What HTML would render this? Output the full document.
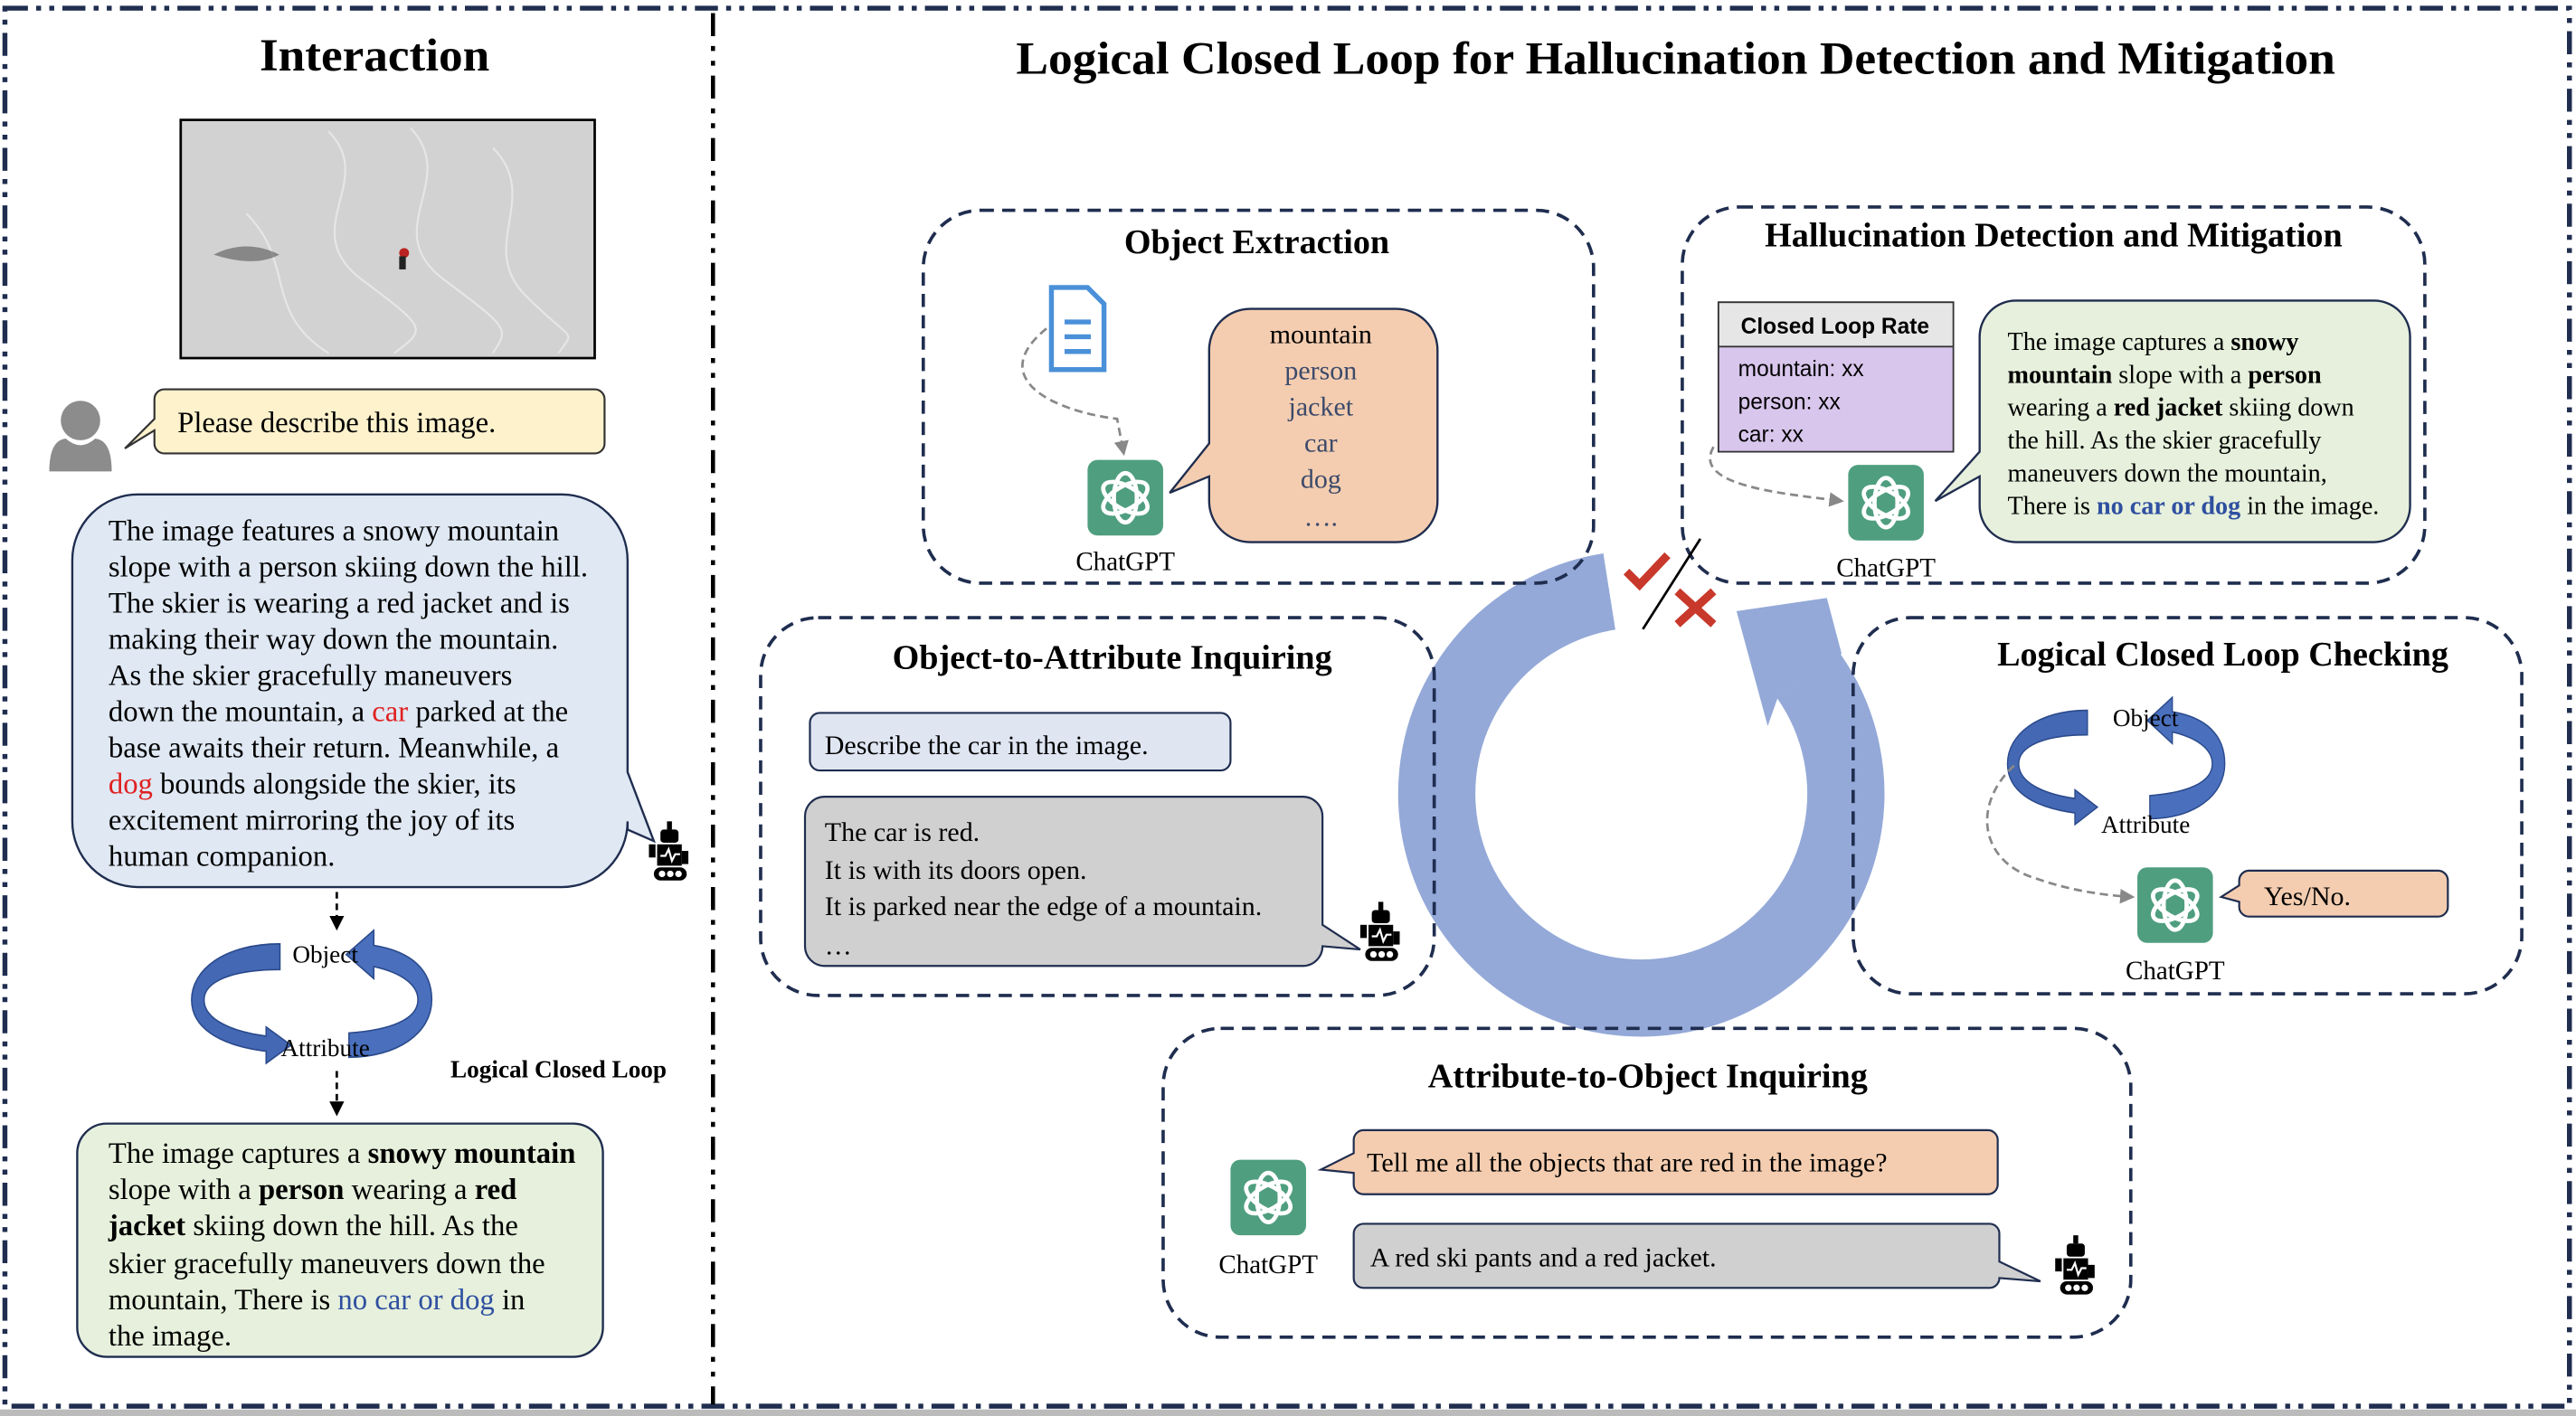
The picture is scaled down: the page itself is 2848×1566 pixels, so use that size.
<!DOCTYPE html>
<html><head><meta charset="utf-8"><style>
html,body{margin:0;padding:0;background:#fff}
svg{display:block}
text{font-family:"Liberation Serif",serif;fill:#000}
.t{font-weight:bold;font-size:21px}
.b{font-size:18px}
.s{font-size:15.5px}
.box{fill:none;stroke:#1f2d4f;stroke-width:2;stroke-dasharray:8 5}
</style></head><body>
<svg width="2848" height="1566" viewBox="0 0 1568 862" preserveAspectRatio="none" xmlns="http://www.w3.org/2000/svg">
<defs>
<g id="gpt">
<rect x="0" y="0" width="46" height="46" rx="6" fill="#4f9e80"/>
<g fill="none" stroke="#fff" stroke-width="2.6">
<ellipse cx="23" cy="23" rx="7" ry="15"/>
<ellipse cx="23" cy="23" rx="7" ry="15" transform="rotate(60 23 23)"/>
<ellipse cx="23" cy="23" rx="7" ry="15" transform="rotate(120 23 23)"/>
</g>
</g>
<g id="robot">
<rect x="9" y="0" width="3" height="5" fill="#000"/>
<rect x="5" y="5" width="11" height="8" rx="2" fill="#000"/>
<rect x="3" y="14" width="15" height="13" fill="#000"/>
<polyline points="5,21 8,21 10,17 12,24 14,20 17,20" fill="none" stroke="#fff" stroke-width="1.2"/>
<rect x="-2" y="14" width="4" height="8" fill="#000"/>
<rect x="18" y="18" width="4" height="8" fill="#000"/>
<rect x="1" y="28" width="20" height="8" rx="4" fill="#000"/>
<circle cx="6" cy="32" r="2" fill="#fff"/><circle cx="11" cy="32" r="2" fill="#fff"/><circle cx="16" cy="32" r="2" fill="#fff"/>
</g>
<marker id="ah" markerWidth="6" markerHeight="6" refX="5" refY="3" orient="auto"><path d="M0,0 L6,3 L0,6z" fill="#888"/></marker>
<marker id="ak" markerWidth="6" markerHeight="6" refX="5" refY="3" orient="auto"><path d="M0,0 L6,3 L0,6z" fill="#000"/></marker>
<g id="loop">
<path d="M60,5 L60,22 C25,22 5,30 5,42 C5,55 25,63 50,66 L50,60 L68,72 L50,84 L50,76 C15,72 -4,60 -4,42 C-4,22 20,5 60,5z" fill="#4468b4" stroke="#2b4a8c" stroke-width="1"/>
<path d="M110,80 L110,64 C140,62 160,55 160,42 C160,32 148,24 128,20 L128,28 L108,12 L128,-4 L128,6 C155,10 170,22 170,42 C170,64 145,80 110,80z" fill="#4a70bd" stroke="#2b4a8c" stroke-width="1"/>
</g>
</defs>

<rect x="3" y="5" width="1561" height="851" fill="none" stroke="#1f2d4f" stroke-width="3" stroke-dasharray="14 5 3 5 3 5"/>
<line x1="434" y1="8" x2="434" y2="855" stroke="#000" stroke-width="2.5" stroke-dasharray="14 6 3 6 3 6"/>
<rect x="0" y="858" width="1568" height="4" fill="#bbb"/>

<text x="228" y="43" text-anchor="middle" style="font-weight:bold;font-size:28px" textLength="140" lengthAdjust="spacingAndGlyphs">Interaction</text>
<rect x="110" y="73" width="252" height="145" fill="#d2d2d2" stroke="#000" stroke-width="1.5"/>
<g fill="none" stroke="#e6e6e6" stroke-width="1.2">
<path d="M200 80 C230 110 180 140 220 170 S260 200 240 215"/>
<path d="M250 78 C280 110 230 140 270 170 S310 200 300 215"/>
<path d="M300 90 C330 120 290 150 320 180 S350 200 340 215"/>
<path d="M150 130 C180 160 160 190 200 215"/>
</g>
<path d="M130 155 q20 -10 40 0 q-15 8 -40 0z" fill="#555" opacity=".6"/>
<circle cx="246" cy="154" r="3" fill="#b22"/><rect x="243" y="156" width="4" height="8" fill="#222"/>
<circle cx="49" cy="256" r="12" fill="#8c8c8c"/>
<path d="M30 287 Q30 268 40 267 Q49 275 58 267 Q68 268 68 287z" fill="#8c8c8c"/>
<path d="M100 237 H362 a6 6 0 0 1 6 6 V270 a6 6 0 0 1 -6 6 H100 a6 6 0 0 1 -6 -6 V262 L76 273 L94 255 V243 a6 6 0 0 1 6 -6z" fill="#fdf2cc" stroke="#333" stroke-width="1.2"/>
<text x="108" y="263" class="b">Please describe this image.</text>

<path d="M84 301 H342 a40 40 0 0 1 40 40 V470 L398 512 L382 505 V500 a40 40 0 0 1 -40 40 H84 a40 40 0 0 1 -40 -40 V341 a40 40 0 0 1 40 -40z" fill="#dfe8f3" stroke="#1f2d4f" stroke-width="1.3"/>
<text x="66" y="329" class="b">The image features a snowy mountain</text>
<text x="66" y="351" class="b">slope with a person skiing down the hill.</text>
<text x="66" y="373" class="b">The skier is wearing a red jacket and is</text>
<text x="66" y="395" class="b">making their way down the mountain.</text>
<text x="66" y="417" class="b">As the skier gracefully maneuvers</text>
<text x="66" y="439" class="b">down the mountain, a <tspan style="fill:#e02020">car</tspan> parked at the</text>
<text x="66" y="461" class="b">base awaits their return. Meanwhile, a</text>
<text x="66" y="483" class="b"><tspan style="fill:#e02020">dog</tspan> bounds alongside the skier, its</text>
<text x="66" y="505" class="b">excitement mirroring the joy of its</text>
<text x="66" y="527" class="b">human companion.</text>
<use href="#robot" x="397" y="500"/>
<line x1="205" y1="543" x2="205" y2="565" stroke="#000" stroke-width="1.5" stroke-dasharray="4 3" marker-end="url(#ak)"/>
<g transform="translate(120,570) scale(0.84,0.92)"><use href="#loop"/></g>
<text x="198" y="586" text-anchor="middle" style="font-size:15px">Object</text>
<text x="198" y="643" text-anchor="middle" style="font-size:15px">Attribute</text>
<text x="340" y="656" text-anchor="middle" style="font-weight:bold;font-size:15px">Logical Closed Loop</text>
<line x1="205" y1="652" x2="205" y2="678" stroke="#000" stroke-width="1.5" stroke-dasharray="4 3" marker-end="url(#ak)"/>
<rect x="47" y="684" width="320" height="142" rx="18" fill="#e6f0dc" stroke="#1f2d4f" stroke-width="1.3"/>
<text x="66" y="708" class="b">The image captures a <tspan font-weight="bold">snowy mountain</tspan></text>
<text x="66" y="730" class="b">slope with a <tspan font-weight="bold">person</tspan> wearing a <tspan font-weight="bold">red</tspan></text>
<text x="66" y="752" class="b"><tspan font-weight="bold">jacket</tspan> skiing down the hill. As the</text>
<text x="66" y="775" class="b">skier gracefully maneuvers down the</text>
<text x="66" y="797" class="b">mountain, There is <tspan style="fill:#2f4fa0">no car or dog</tspan> in</text>
<text x="66" y="819" class="b">the image.</text>

<text x="1020" y="45" text-anchor="middle" style="font-weight:bold;font-size:28px" textLength="803" lengthAdjust="spacingAndGlyphs">Logical Closed Loop for Hallucination Detection and Mitigation</text>

<g fill="#94a9d8">
<path d="M979.6,360.1 A124.5,124.5 0 1 0 1101,411.6" fill="none" stroke="#94a9d8" stroke-width="47"/>
<polygon points="1082,425 1076,442 1057,372 1112,364 1121,398"/>
</g>

<rect x="562" y="128" width="408" height="227" rx="35" class="box"/>
<text x="765" y="154" text-anchor="middle" class="t">Object Extraction</text>
<path d="M640 175 H662 L672 185 V225 H640z" fill="#fff" stroke="#4a90d9" stroke-width="3"/>
<line x1="648" y1="196" x2="664" y2="196" stroke="#4a90d9" stroke-width="3"/>
<line x1="648" y1="205" x2="664" y2="205" stroke="#4a90d9" stroke-width="3"/>
<line x1="648" y1="214" x2="664" y2="214" stroke="#4a90d9" stroke-width="3"/>
<path d="M637 200 C600 230 640 250 680 255 L684 276" fill="none" stroke="#888" stroke-width="1.5" stroke-dasharray="5 3" marker-end="url(#ah)"/>
<use href="#gpt" x="662" y="280"/>
<text x="685" y="347" text-anchor="middle" style="font-size:16px">ChatGPT</text>
<path d="M761 188 H850 a25 25 0 0 1 25 25 V305 a25 25 0 0 1 -25 25 H761 a25 25 0 0 1 -25 -25 V290 L712 300 L736 270 V213 a25 25 0 0 1 25 -25z" fill="#f4cdb0" stroke="#1f2d4f" stroke-width="1.3"/>
<g text-anchor="middle">
<text x="804" y="209" style="font-size:16.5px">mountain</text>
<text x="804" y="231" style="font-size:16.5px;fill:#3c4a6a">person</text>
<text x="804" y="253" style="font-size:16.5px;fill:#3c4a6a">jacket</text>
<text x="804" y="275" style="font-size:16.5px;fill:#3c4a6a">car</text>
<text x="804" y="297" style="font-size:16.5px;fill:#3c4a6a">dog</text>
<text x="804" y="320" style="font-size:16.5px;fill:#3c4a6a">….</text>
</g>

<rect x="1024" y="126" width="452" height="229" rx="35" class="box"/>
<text x="1250" y="150" text-anchor="middle" class="t">Hallucination Detection and Mitigation</text>
<rect x="1046" y="184" width="143" height="91" fill="#d9c6ec" stroke="#333" stroke-width="1"/>
<rect x="1046" y="184" width="143" height="27" fill="#e6e6e6" stroke="#333" stroke-width="1"/>
<text x="1117" y="203" text-anchor="middle" style="font-family:'Liberation Sans',sans-serif;font-size:13.5px;font-weight:bold">Closed Loop Rate</text>
<text x="1058" y="229" style="font-family:'Liberation Sans',sans-serif;font-size:13.5px">mountain: xx</text>
<text x="1058" y="249" style="font-family:'Liberation Sans',sans-serif;font-size:13.5px">person: xx</text>
<text x="1058" y="269" style="font-family:'Liberation Sans',sans-serif;font-size:13.5px">car: xx</text>
<path d="M1043 272 C1030 295 1080 300 1121 305" fill="none" stroke="#888" stroke-width="1.5" stroke-dasharray="5 3" marker-end="url(#ah)"/>
<use href="#gpt" x="1125" y="283"/>
<text x="1148" y="351" text-anchor="middle" style="font-size:16px">ChatGPT</text>
<path d="M1227 183 H1445 a22 22 0 0 1 22 22 V308 a22 22 0 0 1 -22 22 H1227 a22 22 0 0 1 -22 -22 V290 L1178 305 L1205 275 V205 a22 22 0 0 1 22 -22z" fill="#e6f0dc" stroke="#1f2d4f" stroke-width="1.3"/>
<text x="1222" y="213" class="s">The image captures a <tspan font-weight="bold">snowy</tspan></text>
<text x="1222" y="233" class="s"><tspan font-weight="bold">mountain</tspan> slope with a <tspan font-weight="bold">person</tspan></text>
<text x="1222" y="253" class="s">wearing a <tspan font-weight="bold">red jacket</tspan> skiing down</text>
<text x="1222" y="273" class="s">the hill. As the skier gracefully</text>
<text x="1222" y="293" class="s">maneuvers down the mountain,</text>
<text x="1222" y="313" class="s">There is <tspan font-weight="bold" style="fill:#2f4fa0">no car or dog</tspan> in the image.</text>

<polyline points="990,348 998,356 1015,338" fill="none" stroke="#c8382b" stroke-width="5"/>
<line x1="1021" y1="360" x2="1043" y2="380" stroke="#c8382b" stroke-width="5"/>
<line x1="1043" y1="360" x2="1021" y2="380" stroke="#c8382b" stroke-width="5"/>
<line x1="1000" y1="383" x2="1035" y2="328" stroke="#000" stroke-width="1.5"/>

<rect x="463" y="376" width="410" height="230" rx="35" class="box"/>
<text x="677" y="407" text-anchor="middle" class="t">Object-to-Attribute Inquiring</text>
<rect x="493" y="434" width="256" height="35" rx="6" fill="#dfe6f2" stroke="#1f2d4f" stroke-width="1.2"/>
<text x="502" y="459" style="font-size:16.5px">Describe the car in the image.</text>
<path d="M502 485 H793 a12 12 0 0 1 12 12 V563 L828 578 L805 576 a12 12 0 0 1 -12 12 H502 a12 12 0 0 1 -12 -12 V497 a12 12 0 0 1 12 -12z" fill="#d0d0d0" stroke="#1f2d4f" stroke-width="1.2"/>
<text x="502" y="512" style="font-size:16.5px">The car is red.</text>
<text x="502" y="535" style="font-size:16.5px">It is with its doors open.</text>
<text x="502" y="557" style="font-size:16.5px">It is parked near the edge of a mountain.</text>
<text x="502" y="581" style="font-size:16.5px">…</text>
<use href="#robot" x="830" y="549"/>

<rect x="1128" y="376" width="407" height="229" rx="35" class="box"/>
<text x="1353" y="405" text-anchor="middle" class="t">Logical Closed Loop Checking</text>
<g transform="translate(1225,428) scale(0.76,0.88)"><use href="#loop"/></g>
<text x="1306" y="442" text-anchor="middle" style="font-size:15px">Object</text>
<text x="1306" y="507" text-anchor="middle" style="font-size:15px">Attribute</text>
<path d="M1226 466 C1200 490 1205 525 1240 535 C1260 542 1280 545 1298 546" fill="none" stroke="#888" stroke-width="1.5" stroke-dasharray="5 3" marker-end="url(#ah)"/>
<use href="#gpt" x="1301" y="528"/>
<text x="1324" y="596" text-anchor="middle" style="font-size:16px">ChatGPT</text>
<path d="M1369 530 H1484 a6 6 0 0 1 6 6 V552 a6 6 0 0 1 -6 6 H1369 a6 6 0 0 1 -6 -6 V549 L1352 546 L1363 539 V536 a6 6 0 0 1 6 -6z" fill="#f4cdb0" stroke="#1f2d4f" stroke-width="1.2"/>
<text x="1378" y="551" style="font-size:16.5px">Yes/No.</text>

<rect x="708" y="626" width="589" height="188" rx="35" class="box"/>
<text x="1003" y="662" text-anchor="middle" class="t">Attribute-to-Object Inquiring</text>
<use href="#gpt" x="749" y="706"/>
<text x="772" y="775" text-anchor="middle" style="font-size:16px">ChatGPT</text>
<path d="M830 688 H1210 a6 6 0 0 1 6 6 V721 a6 6 0 0 1 -6 6 H830 a6 6 0 0 1 -6 -6 V714 L804 712 L824 702 V694 a6 6 0 0 1 6 -6z" fill="#f4cdb0" stroke="#1f2d4f" stroke-width="1.2"/>
<text x="832" y="713" style="font-size:16.5px">Tell me all the objects that are red in the image?</text>
<path d="M830 745 H1211 a6 6 0 0 1 6 6 V768 L1242 780 L1217 778 a6 6 0 0 1 -6 6 H830 a6 6 0 0 1 -6 -6 V751 a6 6 0 0 1 6 -6z" fill="#d0d0d0" stroke="#1f2d4f" stroke-width="1.2"/>
<text x="834" y="771" style="font-size:16.5px">A red ski pants and a red jacket.</text>
<use href="#robot" x="1253" y="752"/>
</svg>
</body></html>
